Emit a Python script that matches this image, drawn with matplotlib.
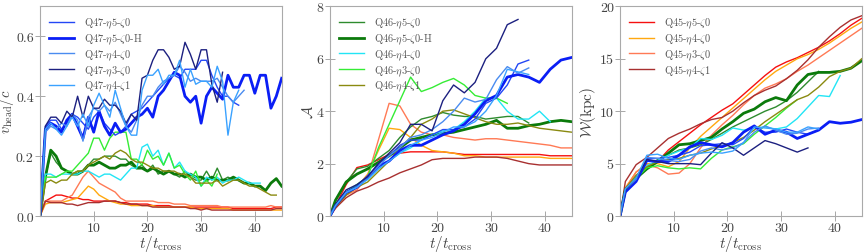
import matplotlib
matplotlib.use("Agg")
import matplotlib.pyplot as plt

# time grids (t / t_cross)
T_FINE = list(range(46))
T_COARSE = [0, 1] + list(range(3, 46, 2))

LABELS = {
    "q47_e5": "Q47-$\\eta$5-$\\zeta$0", "q47_e5H": "Q47-$\\eta$5-$\\zeta$0-H",
    "q47_e4": "Q47-$\\eta$4-$\\zeta$0", "q47_e3": "Q47-$\\eta$3-$\\zeta$0",
    "q47_e4z1": "Q47-$\\eta$4-$\\zeta$1",
    "q46_e5": "Q46-$\\eta$5-$\\zeta$0", "q46_e5H": "Q46-$\\eta$5-$\\zeta$0-H",
    "q46_e4": "Q46-$\\eta$4-$\\zeta$0", "q46_e3": "Q46-$\\eta$3-$\\zeta$0",
    "q46_e4z1": "Q46-$\\eta$4-$\\zeta$1",
    "q45_e5": "Q45-$\\eta$5-$\\zeta$0", "q45_e4": "Q45-$\\eta$4-$\\zeta$0",
    "q45_e3": "Q45-$\\eta$3-$\\zeta$0", "q45_e4z1": "Q45-$\\eta$4-$\\zeta$1",
}
COLORS = {
    "q47_e5": "#2347f5", "q47_e5H": "#0a1ef5", "q47_e4": "#4a8cf0",
    "q47_e3": "#1c2080", "q47_e4z1": "#3aa2ff",
    "q46_e5": "#2e8b2e", "q46_e5H": "#0b7a0b", "q46_e4": "#22e5f5",
    "q46_e3": "#35ec35", "q46_e4z1": "#8a8a10",
    "q45_e5": "#f51010", "q45_e4": "#ffa810", "q45_e3": "#ff7a55",
    "q45_e4z1": "#a83030",
}
THICK = {"q47_e5H", "q46_e5H"}

# ---- panel 1: v_head / c (sampled on T_FINE) ----
vh_q47_e5 = [0, 0.30, 0.32, 0.32, 0.29, 0.31, 0.34, 0.33, 0.31, 0.29, 0.33, 0.35, 0.31, 0.29, 0.27, 0.28, 0.30, 0.34, 0.35, 0.36,
             0.38, 0.40, 0.42, 0.44, 0.46, 0.47, 0.46, 0.49, 0.49, 0.49, 0.52, 0.52, 0.47, 0.43, 0.40, 0.40, 0.38, 0.37]
vh_q47_e5H = [0, 0.29, 0.31, 0.30, 0.28, 0.32, 0.34, 0.30, 0.26, 0.33, 0.28, 0.35, 0.30, 0.27, 0.31, 0.28, 0.29, 0.31, 0.33, 0.34,
              0.36, 0.33, 0.40, 0.42, 0.45, 0.48, 0.47, 0.40, 0.38, 0.40, 0.31, 0.40, 0.43, 0.41, 0.39, 0.47, 0.43, 0.43, 0.47, 0.47,
              0.41, 0.47, 0.47, 0.36, 0.40, 0.46]
vh_q47_e4 = [0, 0.28, 0.30, 0.29, 0.31, 0.30, 0.34, 0.32, 0.25, 0.33, 0.36, 0.35, 0.37, 0.35, 0.38, 0.34, 0.30, 0.28, 0.32, 0.37,
             0.40, 0.40, 0.43, 0.45, 0.46, 0.47, 0.50, 0.48, 0.45, 0.46, 0.45, 0.45, 0.45, 0.46, 0.43, 0.40, 0.38, 0.40, 0.42]
vh_q47_e3 = [0, 0.30, 0.33, 0.33, 0.31, 0.35, 0.33, 0.40, 0.33, 0.40, 0.36, 0.36, 0.39, 0.37, 0.37, 0.35, 0.31, 0.34, 0.32, 0.46,
             0.47, 0.52, 0.555, 0.555, 0.53, 0.49, 0.50, 0.58, 0.54, 0.49, 0.555, 0.555, 0.44, 0.38, 0.48]
vh_q47_e4z1 = [0, 0.29, 0.31, 0.29, 0.27, 0.30, 0.33, 0.30, 0.34, 0.30, 0.37, 0.41, 0.37, 0.33, 0.42, 0.36, 0.30, 0.27, 0.27, 0.42,
               0.47, 0.47, 0.49, 0.44, 0.47, 0.47, 0.52, 0.43, 0.49, 0.44, 0.45, 0.45, 0.43, 0.50, 0.45, 0.27, 0.38, 0.42]
vh_q46_e5 = [0, 0.13, 0.21, 0.18, 0.16, 0.15, 0.14, 0.15, 0.15, 0.17, 0.19, 0.19, 0.20, 0.20, 0.20, 0.19, 0.19, 0.17, 0.16, 0.17,
             0.15, 0.17, 0.14, 0.15, 0.15, 0.14, 0.13, 0.15, 0.13, 0.12, 0.12, 0.15, 0.12, 0.16, 0.12, 0.13, 0.12, 0.12]
vh_q46_e5H = [0, 0.13, 0.22, 0.20, 0.16, 0.15, 0.14, 0.14, 0.15, 0.17, 0.17, 0.18, 0.17, 0.16, 0.16, 0.17, 0.17, 0.18, 0.16, 0.16,
              0.15, 0.16, 0.15, 0.14, 0.15, 0.14, 0.14, 0.13, 0.14, 0.13, 0.13, 0.12, 0.13, 0.12, 0.12, 0.12, 0.13, 0.12, 0.11, 0.11,
              0.10, 0.10, 0.085, 0.11, 0.125, 0.10]
vh_q46_e4 = [0, 0.14, 0.14, 0.13, 0.14, 0.14, 0.14, 0.14, 0.15, 0.15, 0.14, 0.13, 0.14, 0.14, 0.13, 0.12, 0.14, 0.16, 0.16, 0.23,
             0.24, 0.20, 0.22, 0.17, 0.21, 0.16, 0.18, 0.15, 0.14, 0.13, 0.10, 0.13, 0.12, 0.13, 0.11, 0.12, 0.12, 0.13, 0.12, 0.11,
             0.11, 0.11]
vh_q46_e3 = [0, 0.13, 0.13, 0.13, 0.14, 0.15, 0.15, 0.17, 0.19, 0.21, 0.26, 0.26, 0.22, 0.26, 0.28, 0.28, 0.28, 0.19, 0.19, 0.17,
             0.22, 0.19, 0.20, 0.17, 0.21, 0.16, 0.17, 0.14, 0.12, 0.15, 0.10, 0.12, 0.10, 0.14]
vh_q46_e4z1 = [0, 0.11, 0.12, 0.11, 0.12, 0.12, 0.14, 0.15, 0.15, 0.17, 0.18, 0.19, 0.20, 0.19, 0.21, 0.22, 0.21, 0.19, 0.18, 0.18,
               0.17, 0.16, 0.16, 0.15, 0.15, 0.15, 0.14, 0.14, 0.13, 0.11, 0.11, 0.11, 0.11, 0.12, 0.10, 0.11, 0.12, 0.12, 0.11, 0.10,
               0.10, 0.09, 0.08, 0.07, 0.07]
vh_q45_e5 = [0, 0.05, 0.06, 0.07, 0.07, 0.065, 0.06, 0.06, 0.055, 0.055, 0.05, 0.05, 0.05, 0.05, 0.05, 0.045, 0.045, 0.04, 0.04, 0.04,
             0.04, 0.035, 0.035, 0.035, 0.035, 0.03, 0.03, 0.03, 0.03, 0.03, 0.03, 0.03, 0.03, 0.03, 0.03, 0.03, 0.025, 0.025, 0.025,
             0.025, 0.025, 0.025, 0.025, 0.025, 0.03, 0.03]
vh_q45_e4 = [0, 0.04, 0.045, 0.045, 0.045, 0.05, 0.055, 0.06, 0.08, 0.10, 0.09, 0.07, 0.06, 0.05, 0.045, 0.04, 0.04, 0.035, 0.035,
             0.035, 0.035, 0.035, 0.03, 0.03, 0.03, 0.03, 0.03, 0.03, 0.03, 0.025, 0.025, 0.025, 0.025, 0.025, 0.025, 0.025, 0.02,
             0.02, 0.02, 0.02, 0.02, 0.02, 0.02, 0.02, 0.02, 0.02]
vh_q45_e3 = [0, 0.05, 0.05, 0.05, 0.05, 0.06, 0.07, 0.10, 0.13, 0.15, 0.13, 0.11, 0.10, 0.09, 0.08, 0.06, 0.05, 0.05, 0.05, 0.05,
             0.05, 0.05, 0.045, 0.045, 0.045, 0.04, 0.04, 0.04, 0.035, 0.035, 0.035, 0.035, 0.035, 0.035, 0.03, 0.03, 0.03, 0.03,
             0.03, 0.03, 0.03, 0.03, 0.03, 0.035, 0.03, 0.03]
vh_q45_e4z1 = [0, 0.05, 0.045, 0.045, 0.045, 0.04, 0.04, 0.035, 0.04, 0.045, 0.045, 0.045, 0.05, 0.05, 0.05, 0.045, 0.04, 0.04,
               0.04, 0.035, 0.035, 0.03, 0.03, 0.03, 0.03, 0.03, 0.03, 0.03, 0.025, 0.025, 0.02, 0.025, 0.02, 0.02, 0.02, 0.02,
               0.02, 0.02, 0.02, 0.02, 0.02, 0.02, 0.02, 0.02, 0.025, 0.025]

# ---- panel 2: A (sampled on T_COARSE) ----
A_q47_e5 = [0, 0.4, 0.9, 1.1, 1.5, 2.0, 2.3, 2.7, 2.9, 2.9, 3.1, 3.3, 3.3, 3.4, 3.7, 4.3, 4.5, 5.0, 5.8, 5.95]
A_q47_e5H = [0, 0.4, 0.9, 1.1, 1.5, 1.9, 2.1, 2.5, 2.7, 2.7, 2.9, 3.1, 3.25, 3.5, 3.9, 4.4, 4.6, 5.3, 5.4, 5.3, 5.1, 5.6, 5.95, 6.05]
A_q47_e4 = [0, 0.4, 0.9, 1.1, 1.5, 1.9, 2.3, 2.6, 3.0, 3.1, 3.3, 3.6, 4.0, 4.5, 4.35, 4.45, 5.2, 5.7, 5.45, 5.65]
A_q47_e3 = [0, 0.45, 1.0, 1.2, 1.5, 2.0, 2.4, 2.8, 3.5, 3.5, 3.25, 4.4, 5.0, 4.7, 5.1, 6.0, 6.4, 7.3, 7.5]
A_q47_e4z1 = [0, 0.4, 0.9, 1.1, 1.4, 1.8, 2.1, 2.4, 2.7, 2.9, 3.0, 3.2, 3.4, 3.4, 3.6, 4.0, 4.6, 5.6, 5.5, 5.4]
A_q46_e5 = [0, 0.6, 1.3, 1.8, 1.9, 2.2, 2.5, 3.0, 3.4, 3.7, 3.8, 3.95, 3.85, 3.8, 3.8, 3.7, 3.75, 3.8, 3.8, 3.55]
A_q46_e5H = [0, 0.6, 1.3, 1.6, 1.8, 2.05, 2.3, 2.6, 2.9, 3.0, 3.1, 3.15, 3.2, 3.3, 3.4, 3.5, 3.65, 3.35, 3.35, 3.45, 3.5, 3.6, 3.65, 3.6]
A_q46_e4 = [0, 0.4, 0.9, 1.2, 1.4, 1.8, 2.1, 2.4, 2.6, 2.9, 3.1, 3.25, 3.3, 3.6, 4.0, 4.5, 4.5, 4.0, 3.7, 3.7, 4.0, 3.6]
A_q46_e3 = [0, 0.4, 0.9, 1.2, 1.5, 2.6, 3.5, 4.4, 5.3, 4.75, 4.9, 5.1, 5.25, 5.0, 4.6, 4.5, 4.5, 4.3]
A_q46_e4z1 = [0, 0.35, 0.8, 1.1, 1.3, 1.7, 2.1, 2.6, 3.0, 3.5, 3.7, 4.0, 4.05, 3.9, 3.75, 3.6, 3.5, 3.5, 3.55, 3.45, 3.35, 3.3, 3.25, 3.2]
A_q45_e5 = [0, 0.4, 1.2, 1.85, 1.95, 2.15, 2.35, 2.4, 2.45, 2.45, 2.45, 2.45, 2.4, 2.35, 2.35, 2.35, 2.35, 2.35, 2.35, 2.35, 2.35, 2.3, 2.3, 2.3]
A_q45_e4 = [0, 0.3, 0.8, 1.1, 1.6, 2.5, 3.35, 3.3, 3.0, 2.7, 2.5, 2.45, 2.4, 2.3, 2.3, 2.25, 2.25, 2.25, 2.25, 2.25, 2.25, 2.2, 2.2, 2.2]
A_q45_e3 = [0, 0.3, 0.8, 1.0, 1.5, 2.9, 4.3, 4.2, 3.5, 3.2, 3.1, 3.1, 3.0, 2.95, 2.9, 2.95, 2.95, 2.9, 2.85, 2.8, 2.75, 2.7, 2.6, 2.6]
A_q45_e4z1 = [0, 0.3, 0.7, 0.95, 1.1, 1.3, 1.45, 1.65, 1.8, 1.95, 2.15, 2.2, 2.2, 2.2, 2.25, 2.25, 2.25, 2.2, 2.1, 2.0, 1.95, 1.95, 1.95, 1.95]

# ---- panel 3: W in kpc (sampled on T_COARSE) ----
W_q47_e5 = [0, 2.4, 3.4, 5.5, 5.5, 5.6, 5.8, 6.1, 6.7, 6.8, 6.9, 6.8, 7.4, 8.5, 8.0, 8.0, 8.3, 8.0, 7.8, 8.2]
W_q47_e5H = [0, 2.3, 3.3, 5.3, 5.2, 5.2, 5.8, 6.6, 7.0, 6.8, 6.6, 7.0, 8.0, 8.6, 7.8, 8.2, 8.0, 7.4, 7.8, 8.2, 9.0, 8.85, 8.95, 9.2]
W_q47_e4 = [0, 2.5, 3.5, 5.6, 5.5, 5.3, 5.2, 5.4, 6.2, 6.5, 6.3, 6.5, 7.0, 8.0, 8.6, 8.2, 7.8, 7.9, 8.3, 8.4]
W_q47_e3 = [0, 2.5, 3.6, 5.4, 5.2, 5.0, 5.0, 5.0, 4.9, 6.0, 7.0, 6.5, 5.8, 6.5, 7.2, 6.9, 6.5, 6.1, 6.5]
W_q47_e4z1 = [0, 2.6, 3.6, 5.8, 5.9, 5.5, 5.4, 5.8, 6.0, 6.1, 6.0, 6.2, 7.0, 8.5, 8.4, 8.3, 8.0, 8.0, 8.5, 8.3]
W_q46_e5 = [0, 2.6, 3.8, 4.5, 5.4, 5.8, 6.3, 6.5, 6.8, 7.3, 7.9, 8.5, 9.0, 9.5, 10.0, 10.4, 11.0, 11.8, 12.8, 13.8]
W_q46_e5H = [0, 2.5, 3.6, 4.5, 5.2, 6.0, 6.8, 6.9, 7.2, 7.5, 8.3, 9.0, 9.8, 10.2, 10.9, 11.3, 11.0, 12.5, 13.5, 13.7, 13.7, 13.8, 14.1, 14.8]
W_q46_e4 = [0, 2.5, 3.8, 4.8, 5.3, 5.8, 6.2, 6.5, 7.4, 7.3, 7.7, 8.4, 8.2, 8.4, 8.5, 8.3, 8.5, 9.3, 10.4, 11.5, 11.4, 13.4]
W_q46_e3 = [0, 2.4, 3.6, 4.6, 4.8, 4.6, 4.5, 4.6, 4.5, 5.5, 6.3, 6.6, 6.9, 7.8, 8.6, 9.4, 10.3, 11.1]
W_q46_e4z1 = [0, 2.6, 3.9, 4.7, 5.2, 5.4, 5.5, 5.8, 6.0, 6.4, 6.7, 7.0, 7.5, 8.2, 9.0, 9.7, 10.4, 11.1, 11.5, 12.3, 13.3, 13.8, 14.1, 15.0]
W_q45_e5 = [0, 2.5, 3.8, 4.6, 5.2, 6.3, 7.1, 7.9, 8.7, 9.4, 10.1, 10.7, 11.6, 12.5, 13.4, 14.2, 14.7, 15.1, 15.6, 16.1, 16.7, 17.4, 18.2, 18.85]
W_q45_e4 = [0, 2.7, 4.2, 5.0, 5.0, 4.7, 5.2, 6.5, 7.6, 8.5, 9.4, 10.3, 11.2, 12.1, 13.0, 13.8, 14.4, 15.0, 15.4, 15.9, 16.5, 17.2, 17.9, 18.5]
W_q45_e3 = [0, 2.6, 4.2, 4.9, 4.6, 4.0, 4.1, 5.0, 6.5, 7.7, 8.7, 9.6, 10.6, 11.5, 12.2, 12.6, 13.1, 13.8, 14.4, 15.1, 15.8, 16.5, 17.2, 17.9]
W_q45_e4z1 = [0, 3.3, 4.9, 5.6, 6.5, 7.4, 7.9, 8.3, 8.8, 9.2, 9.4, 10.0, 10.8, 11.5, 12.0, 12.4, 13.1, 13.9, 14.9, 16.1, 17.1, 18.0, 18.7, 19.1]

ORDER = ["q45_e5", "q45_e4", "q45_e3", "q45_e4z1",
         "q46_e5", "q46_e5H", "q46_e4", "q46_e3", "q46_e4z1",
         "q47_e5", "q47_e5H", "q47_e4", "q47_e3", "q47_e4z1"]

panels = [
    {"t": T_FINE, "data": {k: globals()["vh_" + k] for k in ORDER}, "legend": "q47",
     "ylim": (0, 0.7), "yticks": [0, 0.2, 0.4, 0.6], "yfmt": "{:.1f}", "ylabel": r"$v_{\rm head}/c$"},
    {"t": T_COARSE, "data": {k: globals()["A_" + k] for k in ORDER}, "legend": "q46",
     "ylim": (0, 8), "yticks": [0, 2, 4, 6, 8], "yfmt": "{:.0f}", "ylabel": r"$\mathcal{A}$"},
    {"t": T_COARSE, "data": {k: globals()["W_" + k] for k in ORDER}, "legend": "q45",
     "ylim": (0, 20), "yticks": [0, 5, 10, 15, 20], "yfmt": "{:.0f}", "ylabel": r"$\mathcal{W}(\rm kpc)$"},
]

plt.rcParams.update({
    "font.family": "serif",
    "font.serif": ["cmr10", "DejaVu Serif"],
    "mathtext.fontset": "cm",
    "axes.unicode_minus": False,
})

fig = plt.figure(figsize=(8.64, 2.53), dpi=100)
lefts = [0.0463, 0.382, 0.7176]
for i, (left, p) in enumerate(zip(lefts, panels)):
    ax = fig.add_axes([left, 0.142, 0.2797, 0.829])
    handles = {}
    for k in ORDER:
        v = p["data"][k]
        t = p["t"][:len(v)]
        lw = 2.0 if k in THICK else 1.0
        (ln,) = ax.plot(t, v, color=COLORS[k], lw=lw, label=LABELS[k])
        handles[k] = ln
    keys = [k for k in LABELS if k.startswith(p["legend"])]
    ax.legend([handles[k] for k in keys], [LABELS[k] for k in keys], loc="upper left",
              frameon=False, fontsize=7.5, handlelength=2.4, handletextpad=0.9,
              labelspacing=0.15, borderaxespad=0.5, labelcolor="#555555")
    ax.set_xlim(0, 45)
    ax.set_ylim(*p["ylim"])
    ax.set_xticks([10, 20, 30, 40])
    ax.set_xticklabels(["10", "20", "30", "40"])
    ax.set_yticks(p["yticks"])
    ax.set_yticklabels([p["yfmt"].format(y) for y in p["yticks"]])
    ax.tick_params(direction="inout", length=7, width=0.6, color="#999999",
                   labelsize=10, labelcolor="#444444", pad=1)
    for s in ax.spines.values():
        s.set_color("#aaaaaa")
        s.set_linewidth(0.8)
    ax.set_xlabel(r"$t/t_{\rm cross}$", fontsize=11, labelpad=-1, color="#444444")
    if i == 0:
        ax.set_ylabel(p["ylabel"], fontsize=10.5, color="#444444")
        ax.yaxis.set_label_coords(-0.1, 0.5)
    else:
        ax.set_ylabel(p["ylabel"], fontsize=11, labelpad=1, color="#444444")

fig.savefig("out.png", dpi=100)
